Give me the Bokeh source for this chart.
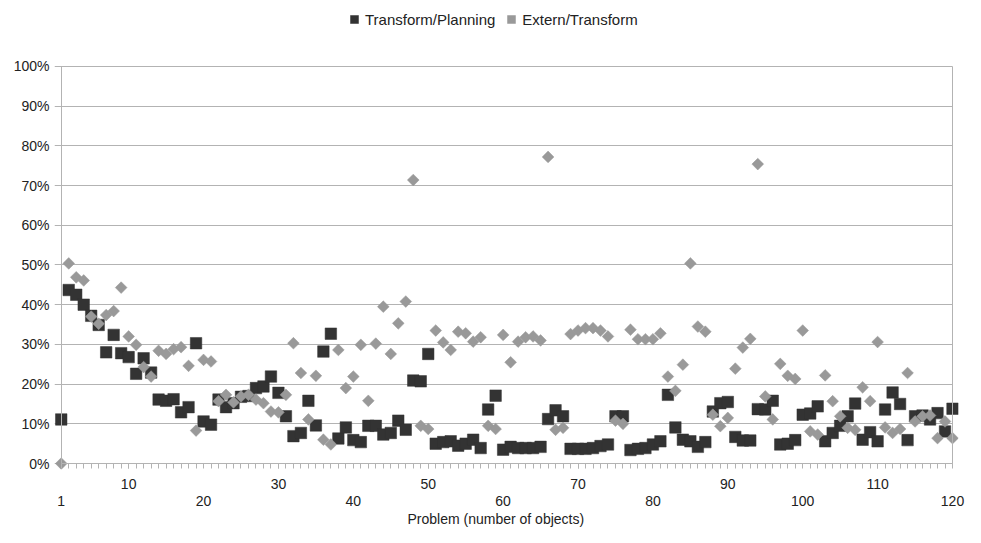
import math
from bokeh.plotting import figure
from bokeh.models import (Range1d, FixedTicker, LinearAxis, PrintfTickFormatter,
                          Legend, LegendItem, ColumnDataSource, Grid, Title)
from bokeh.embed import file_html
from bokeh.resources import INLINE

# ---------------- data ----------------
problems = list(range(1, 121))

transform_planning = [
    11.1, 43.7, 42.5, 40.0, 37.2, 34.9, 28.0, 32.4, 27.8, 26.8,
    22.6, 26.5, 22.9, 16.1, 15.8, 16.2, 12.9, 14.2, 30.3, 10.6,
    9.8, 16.1, 14.2, 15.2, 16.8, 17.0, 19.0, 19.4, 21.9, 17.8,
    11.9, 6.9, 7.7, 15.8, 9.6, 28.2, 32.7, 6.3, 9.1, 5.9,
    5.4, 9.5, 9.5, 7.3, 7.7, 10.8, 8.5, 20.9, 20.7, 27.6,
    5.0, 5.4, 5.6, 4.5, 5.0, 6.0, 3.9, 13.6, 17.1, 3.5,
    4.2, 3.9, 3.9, 3.9, 4.2, 11.2, 13.4, 11.9, 3.7, 3.7,
    3.7, 3.9, 4.4, 4.8, 11.9, 11.9, 3.4, 3.7, 3.9, 4.8,
    5.6, 17.3, 9.1, 6.0, 5.6, 4.2, 5.4, 13.1, 15.2, 15.5,
    6.7, 5.8, 5.8, 13.7, 13.6, 15.8, 4.8, 5.0, 5.9, 12.3,
    12.6, 14.4, 5.6, 7.7, 9.5, 11.9, 15.1, 6.0, 7.9, 5.6,
    13.6, 17.9, 15.0, 5.9, 11.9, 12.1, 11.1, 12.7, 8.1, 13.8,
]

extern_transform = [
    0.0, 50.4, 46.9, 46.1, 37.0, 35.2, 37.4, 38.4, 44.3, 32.0,
    29.9, 24.3, 21.9, 28.4, 27.6, 28.8, 29.3, 24.6, 8.3, 26.1,
    25.7, 15.7, 17.3, 15.4, 16.9, 17.3, 16.1, 15.2, 13.1, 12.9,
    17.3, 30.3, 22.8, 11.1, 22.1, 6.0, 4.8, 28.6, 19.0, 21.9,
    29.9, 15.8, 30.2, 39.5, 27.6, 35.3, 40.8, 71.4, 9.5, 8.7,
    33.5, 30.5, 28.6, 33.2, 32.8, 30.7, 31.8, 9.5, 8.7, 32.4,
    25.5, 30.7, 31.8, 32.0, 31.0, 77.2, 8.5, 9.0, 32.6, 33.5,
    34.1, 34.1, 33.5, 32.0, 10.8, 10.0, 33.7, 31.3, 31.3, 31.3,
    32.8, 21.9, 18.3, 24.9, 50.4, 34.5, 33.2, 12.3, 9.4, 11.5,
    23.9, 29.2, 31.4, 75.4, 16.9, 11.1, 25.1, 22.1, 21.3, 33.5,
    8.1, 7.3, 22.2, 15.7, 11.9, 9.0, 8.5, 19.2, 15.7, 30.6,
    9.1, 7.7, 8.7, 22.8, 10.6, 11.9, 12.1, 6.4, 10.6, 6.4,
]

y_ticks = [0, 10, 20, 30, 40, 50, 60, 70, 80, 90, 100]
x_ticks_upper = [10, 30, 50, 70, 90, 110]
x_ticks_lower = [1, 20, 40, 60, 80, 100, 120]
series_names = ["Transform/Planning", "Extern/Transform"]
x_title = "Problem (number of objects)"

# ---------------- style ----------------
FONT = "Liberation Sans"
TEXT = "#222222"
GRID = "#b3b3b3"
DARK = "#333333"
LIGHT = "#999999"

p = figure(width=965, height=527, output_backend="svg", toolbar_location=None,
           x_range=Range1d(0.1, 120.8), y_range=Range1d(-1.5, 116.1),
           min_border_left=54, min_border_right=7, min_border_top=2,
           min_border_bottom=57, x_axis_location=None, y_axis_location=None)
p.outline_line_color = None
p.xgrid.grid_line_color = None
p.ygrid.grid_line_color = None
p.background_fill_color = "white"
p.border_fill_color = "white"

ygrid = Grid(dimension=1, ticker=FixedTicker(ticks=y_ticks), grid_line_color=GRID,
             grid_line_width=1)
try:
    ygrid.cross_bounds = (0.1, 120)
except AttributeError:
    pass
p.add_layout(ygrid, "center")


def style_axis(ax):
    ax.major_label_text_font = FONT
    ax.major_label_text_font_size = "14px"
    ax.major_label_text_color = TEXT
    ax.axis_label_text_font = FONT
    ax.axis_label_text_font_size = "14px"
    ax.axis_label_text_font_style = "normal"
    ax.axis_label_text_color = TEXT
    ax.major_tick_in = 0
    ax.minor_tick_in = 0


def labels_only(ax):
    ax.axis_line_color = None
    ax.major_tick_line_color = None
    ax.minor_tick_line_color = None
    ax.major_tick_out = 0
    ax.minor_tick_out = 0


def line_only(ax):
    ax.major_label_text_color = None
    ax.major_label_text_font_size = "0px"


# ---- y labels (regular axis at the frame edge) ----
yaxis = LinearAxis(ticker=FixedTicker(ticks=y_ticks),
                   formatter=PrintfTickFormatter(format="%d%%"))
style_axis(yaxis)
labels_only(yaxis)
yaxis.major_label_standoff = 5
p.add_layout(yaxis, "left")

# ---- y axis line at problem 1 ----
yline = LinearAxis(fixed_location=1, bounds=(0, 100), ticker=FixedTicker(ticks=[]))
style_axis(yline)
line_only(yline)
yline.axis_line_color = GRID
yline.major_tick_line_color = None
yline.minor_tick_line_color = None
p.add_layout(yline, "left")

# ---- right border line at problem 120 ----
rline = LinearAxis(fixed_location=120, bounds=(0, 100), ticker=FixedTicker(ticks=[]))
style_axis(rline)
line_only(rline)
rline.axis_line_color = GRID
rline.major_tick_line_color = None
rline.minor_tick_line_color = None
p.add_layout(rline, "right")

# ---- x axis line with ticks at 0% ----
xline = LinearAxis(fixed_location=0, bounds=(1, 120),
                   ticker=FixedTicker(ticks=x_ticks_upper, minor_ticks=problems))
style_axis(xline)
line_only(xline)
xline.axis_line_color = GRID
xline.major_tick_line_color = GRID
xline.minor_tick_line_color = GRID
xline.major_tick_out = 5
xline.minor_tick_out = 5
p.add_layout(xline, "below")

# ---- x labels, upper row ----
xaxis = LinearAxis(ticker=FixedTicker(ticks=x_ticks_upper))
style_axis(xaxis)
labels_only(xaxis)
xaxis.major_label_standoff = 9
p.add_layout(xaxis, "below")

# ---- x labels, lower row ----
xaxis2 = LinearAxis(ticker=FixedTicker(ticks=x_ticks_lower))
style_axis(xaxis2)
labels_only(xaxis2)
xaxis2.major_label_standoff = 4
p.add_layout(xaxis2, "below")

# ---- x axis title ----
title = Title(text=x_title, align="left", offset=353,
              text_font=FONT, text_font_size="14px", text_font_style="normal",
              text_color=TEXT)
try:
    title.standoff = 1
except AttributeError:
    pass
p.add_layout(title, "below")

src = ColumnDataSource(dict(problem=problems, tp=transform_planning, et=extern_transform))
r1 = p.scatter("problem", "tp", source=src, marker="square", size=11.5,
               fill_color=DARK, line_color=DARK, line_width=0.5)
r2 = p.scatter("problem", "et", source=src, marker="square", angle=math.pi / 4,
               size=8.3, fill_color=LIGHT, line_color=LIGHT, line_width=0.5)

legend = Legend(items=[LegendItem(label=series_names[0], renderers=[r1]),
                       LegendItem(label=series_names[1], renderers=[r2])],
                location=(290, 440), orientation="horizontal")
legend.padding = 0
legend.margin = 0
legend.spacing = 6
legend.label_standoff = 1
legend.glyph_width = 20
legend.glyph_height = 20
legend.label_height = 20
legend.label_text_font = FONT
legend.label_text_font_size = "15px"
legend.label_text_color = TEXT
legend.background_fill_alpha = 0
legend.border_line_color = None
p.add_layout(legend, "center")

open("out.html", "w").write(file_html(p, INLINE))
